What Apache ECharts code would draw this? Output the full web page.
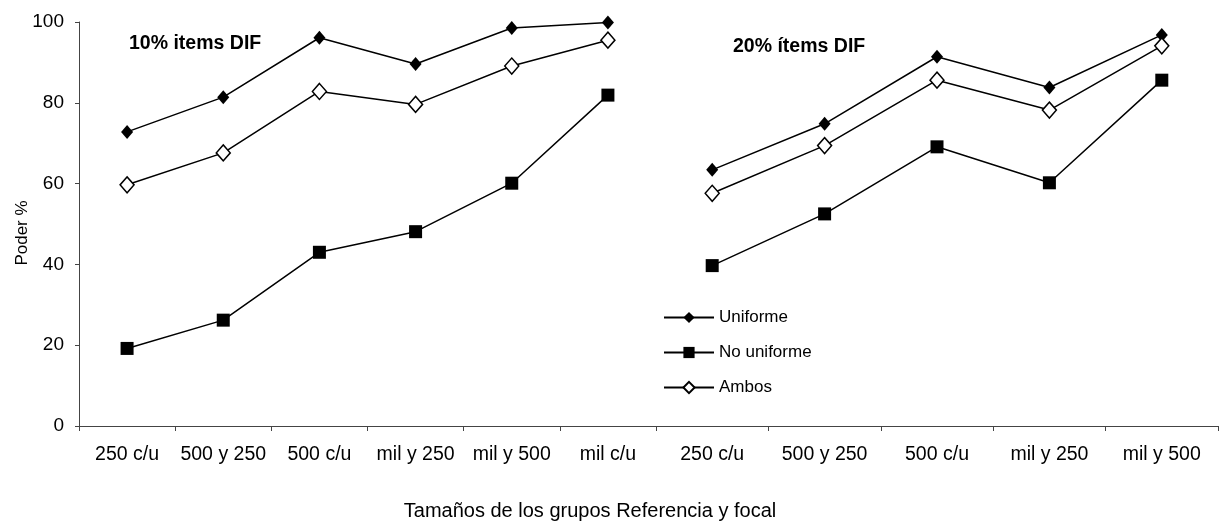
<!DOCTYPE html>
<html>
<head>
<meta charset="utf-8">
<script src="https://cdn.jsdelivr.net/npm/echarts@6/dist/echarts.min.js"></script>
<style>
  html, body { margin: 0; padding: 0; background: #fff; }
  #chart { width: 1219px; height: 522px; }
</style>
</head>
<body>
<div id="chart"></div>
<script>
// Categories of the two panels (group sizes: reference / focal)
const categories10 = ['250 c/u', '500 y 250', '500 c/u', 'mil y 250', 'mil y 500', 'mil c/u'];
const categories20 = ['250 c/u', '500 y 250', '500 c/u', 'mil y 250', 'mil y 500'];

// Power (%) with 10% DIF items
const uniforme10   = [72.8, 81.4, 96.1, 89.6, 98.5, 99.9];
const noUniforme10 = [19.2, 26.2, 43.0, 48.1, 60.1, 81.9];
const ambos10      = [59.7, 67.6, 82.8, 79.6, 89.1, 95.5];

// Power (%) with 20% DIF items
const uniforme20   = [63.4, 74.8, 91.4, 83.8, 96.8];
const noUniforme20 = [39.7, 52.5, 69.1, 60.2, 85.6];
const ambos20      = [57.6, 69.4, 85.6, 78.2, 94.1];

const yTicks = { min: 0, max: 100, interval: 20 };

const FONT = '"Liberation Sans", Arial, sans-serif';
const axisColor = '#444';

function makeSeries(name, data, gridIdx, kind) {
  const base = {
    name: name,
    type: 'line',
    data: data,
    xAxisIndex: gridIdx,
    yAxisIndex: gridIdx,
    lineStyle: { color: '#000', width: 1.5 },
    emphasis: { disabled: true },
    animation: false,
    z: kind === 'ambos' ? 3 : 2
  };
  if (kind === 'uniforme') {
    base.symbol = 'diamond';
    base.symbolSize = [12, 14];
    base.itemStyle = { color: '#000', borderColor: '#000', borderWidth: 0 };
  } else if (kind === 'nouniforme') {
    base.symbol = 'rect';
    base.symbolSize = 13;
    base.itemStyle = { color: '#000', borderColor: '#000', borderWidth: 0 };
  } else {
    base.symbol = 'diamond';
    base.symbolSize = [14, 16];
    base.itemStyle = { color: '#fff', borderColor: '#000', borderWidth: 1.5 };
  }
  return base;
}

const xAxisCommon = {
  type: 'category',
  boundaryGap: true,
  axisLine: { show: true, lineStyle: { color: axisColor, width: 1 } },
  axisTick: { show: true, alignWithLabel: false, length: 5, lineStyle: { color: axisColor } },
  axisLabel: { color: '#000', fontFamily: FONT, fontSize: 19.5, margin: 19, interval: 0 },
  splitLine: { show: false }
};

const titleStyle = { fontFamily: FONT, fontSize: 19.5, fontWeight: 'bold', color: '#000' };

const chart = echarts.init(document.getElementById('chart'), null, { renderer: 'canvas' });

chart.setOption({
  backgroundColor: '#fff',
  animation: false,
  title: [
    { text: '10% items DIF', left: 129, top: 34, padding: 0, textStyle: titleStyle },
    { text: '20% ítems DIF', left: 733, top: 37, padding: 0, textStyle: titleStyle }
  ],
  grid: [
    { left: 79, top: 22, width: 577, height: 404 },
    { left: 656, top: 22, width: 562, height: 404 }
  ],
  xAxis: [
    Object.assign({}, xAxisCommon, { gridIndex: 0, data: categories10 }),
    Object.assign({}, xAxisCommon, { gridIndex: 1, data: categories20 })
  ],
  yAxis: [
    {
      type: 'value', gridIndex: 0,
      min: yTicks.min, max: yTicks.max, interval: yTicks.interval,
      axisLine: { show: true, lineStyle: { color: axisColor, width: 1 } },
      axisTick: { show: true, length: 4, lineStyle: { color: axisColor } },
      axisLabel: { color: '#000', fontFamily: FONT, fontSize: 19, margin: 15 },
      splitLine: { show: false }
    },
    {
      type: 'value', gridIndex: 1, show: false,
      min: yTicks.min, max: yTicks.max, interval: yTicks.interval,
      splitLine: { show: false }
    }
  ],
  graphic: [
    {
      type: 'text', x: 22, y: 233, rotation: Math.PI / 2,
      style: { text: 'Poder %', fontFamily: FONT, fontSize: 17, fill: '#000',
               align: 'center', verticalAlign: 'middle' }
    },
    {
      type: 'text', x: 590, y: 511,
      style: { text: 'Tamaños de los grupos Referencia y focal', fontFamily: FONT, fontSize: 20,
               fill: '#000', align: 'center', verticalAlign: 'middle' }
    }
  ],
  legend: {
    orient: 'vertical',
    left: 663, top: 309, padding: 0,
    itemWidth: 50, itemHeight: 14, itemGap: 18,
    data: ['Uniforme', 'No uniforme', 'Ambos'],
    textStyle: { fontFamily: FONT, fontSize: 17, color: '#000' },
    selectedMode: false
  },
  series: [
    makeSeries('Uniforme', uniforme10, 0, 'uniforme'),
    makeSeries('No uniforme', noUniforme10, 0, 'nouniforme'),
    makeSeries('Ambos', ambos10, 0, 'ambos'),
    makeSeries('Uniforme', uniforme20, 1, 'uniforme'),
    makeSeries('No uniforme', noUniforme20, 1, 'nouniforme'),
    makeSeries('Ambos', ambos20, 1, 'ambos')
  ]
});
</script>
</body>
</html>
